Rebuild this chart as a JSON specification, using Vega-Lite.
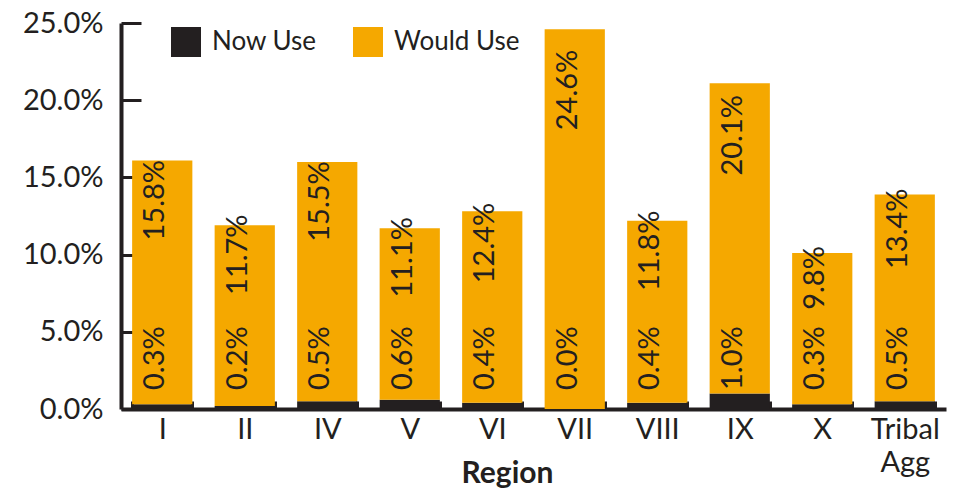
{
  "$schema": "https://vega.github.io/schema/vega-lite/v6.json",
  "width": 825,
  "height": 386,
  "autosize": "none",
  "padding": {"left": 121, "top": 23, "right": 12, "bottom": 80},
  "background": "white",
  "config": {
    "view": {"stroke": null},
    "font": "Lato",
    "text": {"font": "Lato", "color": "#231F20"}
  },
  "data": {
    "values": [
      {"region": "I", "now": 0.003, "would": 0.158},
      {"region": "II", "now": 0.002, "would": 0.117},
      {"region": "IV", "now": 0.005, "would": 0.155},
      {"region": "V", "now": 0.006, "would": 0.111},
      {"region": "VI", "now": 0.004, "would": 0.124},
      {"region": "VII", "now": 0.0, "would": 0.246},
      {"region": "VIII", "now": 0.004, "would": 0.118},
      {"region": "IX", "now": 0.010, "would": 0.201},
      {"region": "X", "now": 0.003, "would": 0.098},
      {"region": "Tribal Agg", "now": 0.005, "would": 0.134}
    ]
  },
  "encoding": {
    "x": {
      "field": "region",
      "type": "nominal",
      "sort": null,
      "scale": {"paddingInner": 0.27, "paddingOuter": 0.135},
      "axis": {
        "title": "Region",
        "titleFont": "Lato",
        "titleFontSize": 30,
        "titleFontWeight": "bold",
        "titleColor": "#231F20",
        "titleX": 386,
        "titleY": 73,
        "titleBaseline": "alphabetic",
        "labelAngle": 0,
        "labelFont": "Lato",
        "labelFontSize": 29,
        "labelColor": "#231F20",
        "labelExpr": "datum.label == 'Tribal Agg' ? ['Tribal', 'Agg'] : datum.label",
        "labelLineHeight": 33,
        "labelPadding": 14,
        "tickBand": "extent",
        "tickSize": -8,
        "tickWidth": 3,
        "tickColor": "#231F20",
        "domainColor": "#231F20",
        "domainWidth": 4,
        "grid": false
      }
    }
  },
  "layer": [
    {
      "transform": [{"fold": ["now", "would"], "as": ["series", "value"]}],
      "mark": {"type": "bar"},
      "encoding": {
        "y": {
          "field": "value",
          "type": "quantitative",
          "stack": "zero",
          "scale": {"domain": [0, 0.25], "nice": false},
          "axis": {
            "title": null,
            "format": ".1%",
            "values": [0, 0.05, 0.1, 0.15, 0.2, 0.25],
            "labelFont": "Lato",
            "labelFontSize": 29,
            "labelColor": "#231F20",
            "labelPadding": 38,
            "tickSize": -20,
            "tickWidth": 3,
            "tickColor": "#231F20",
            "domainColor": "#231F20",
            "domainWidth": 4,
            "grid": false
          }
        },
        "color": {
          "field": "series",
          "type": "nominal",
          "scale": {"domain": ["now", "would"], "range": ["#231F20", "#F5A800"]},
          "legend": {
            "title": null,
            "orient": "none",
            "legendX": 50,
            "legendY": 4,
            "direction": "horizontal",
            "symbolType": "square",
            "symbolSize": 900,
            "symbolStrokeWidth": 0,
            "labelFont": "Lato",
            "labelFontSize": 26,
            "labelColor": "#231F20",
            "labelOffset": 11,
            "columnPadding": 36,
            "labelExpr": "datum.label == 'now' ? 'Now Use' : 'Would Use'"
          }
        },
        "order": {"field": "series", "sort": "ascending"}
      }
    },
    {
      "mark": {"type": "text", "angle": -90, "align": "left", "baseline": "alphabetic", "dx": 19, "dy": 2, "fontSize": 29},
      "encoding": {
        "y": {"datum": 0, "type": "quantitative", "scale": {"domain": [0, 0.25], "nice": false}, "axis": null},
        "text": {"field": "now", "type": "quantitative", "format": ".1%"}
      }
    },
    {
      "transform": [{"fold": ["now", "would"], "as": ["series", "value"]}],
      "mark": {"type": "text", "angle": -90, "align": "center", "baseline": "alphabetic", "dy": 2, "fontSize": 29},
      "encoding": {
        "y": {
          "aggregate": "sum",
          "field": "value",
          "type": "quantitative",
          "scale": {"domain": [0, 0.2976], "nice": false},
          "axis": null
        },
        "text": {"aggregate": "max", "field": "would", "type": "quantitative", "format": ".1%"}
      }
    }
  ],
  "resolve": {"scale": {"y": "independent"}}
}
